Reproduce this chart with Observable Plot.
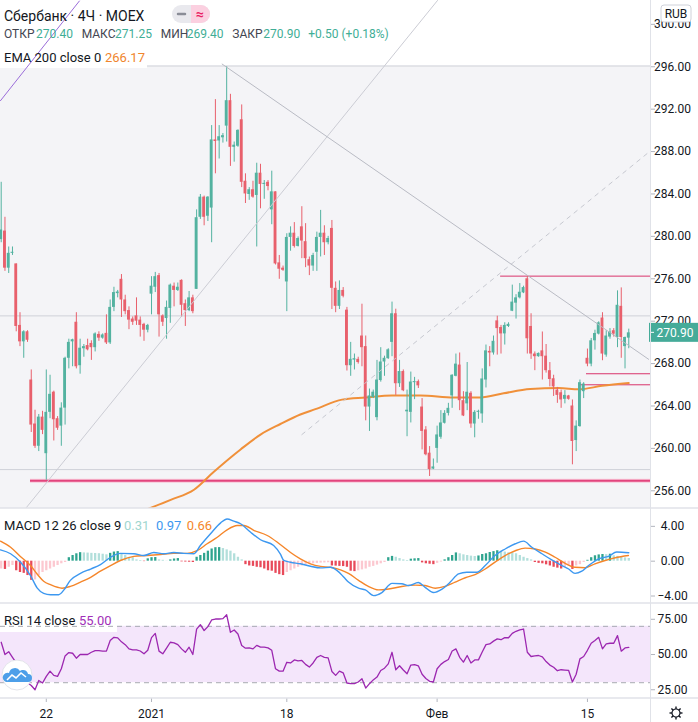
<!DOCTYPE html>
<html>
<head>
<meta charset="utf-8">
<script src="https://cdn.jsdelivr.net/npm/d3@7"></script>
<script src="https://cdn.jsdelivr.net/npm/@observablehq/plot@0.6"></script>
<style>
html, body { margin: 0; padding: 0; background: #ffffff; }
#root { position: relative; width: 698px; height: 722px; overflow: hidden; }
#root svg { position: absolute; left: 0; }
</style>
</head>
<body>
<div id="root"></div>
<script>
// ---------- DATA ----------
const open = [279.7, 280.5, 277.0, 278.4, 277.4, 271.6, 270.05, 271.0, 266.45, 262.3,
260.2, 262.95, 259.5, 263.4, 265.3, 262.8, 262.1, 263.8, 268.5, 270.1,
271.9, 267.8, 269.4, 269.7, 269.9, 269.5, 270.75, 270.4, 270.85, 269.95,
273.3, 274.6, 275.95, 274.0, 273.0, 272.2, 272.5, 272.1, 271.7, 271.15,
274.55, 275.2, 276.3, 272.5, 272.25, 273.2, 275.3, 274.9, 275.85, 273.65,
273.0, 274.2, 275.0, 281.8, 283.7, 281.9, 282.67, 289.1, 289.0, 289.3,
290.4, 292.8, 288.4, 288.5, 291.0, 285.2, 283.95, 284.4, 283.86, 285.96,
284.9, 285.1, 282.5, 284.2, 277.5, 277.0, 275.7, 279.9, 280.3, 279.05,
280.9, 279.5, 277.8, 277.2, 278.5, 279.9, 280.3, 279.4, 280.75, 275.1,
273.4, 274.9, 273.04, 267.8, 268.33, 268.4, 270.6, 269.6, 263.9, 264.8,
262.9, 266.4, 268.15, 268.46, 270.0, 272.7, 266.1, 267.25, 263.5, 263.4,
266.2, 266.3, 263.9, 261.74, 259.55, 258.1, 260.0, 261.05, 262.37, 263.3,
264.95, 266.8, 267.86, 264.5, 264.2, 265.2, 262.3, 263.4, 263.25, 266.45,
269.15, 269.0, 272.03, 271.4, 270.8, 271.5, 272.94, 273.7, 274.2, 274.67,
276.0, 271.5, 268.9, 268.65, 269.2, 268.7, 267.33, 266.57, 265.5, 265.25,
264.63, 264.95, 264.0, 260.74, 262.06, 265.35, 268.5, 267.95, 270.15, 270.78,
272.3, 268.8, 270.5, 271.1, 270.46, 273.4, 269.6, 270.40];
const high = [285.1, 281.8, 279.0, 279.0, 277.4, 272.8, 271.1, 271.1, 267.4, 263.6,
263.2, 263.5, 267.4, 266.9, 265.4, 263.0, 264.3, 268.6, 270.3, 270.3,
272.8, 270.3, 269.8, 270.3, 270.15, 270.9, 271.0, 270.8, 272.6, 274.0,
275.2, 274.9, 276.4, 274.45, 273.35, 272.4, 274.2, 272.4, 271.8, 271.7,
276.2, 276.6, 276.5, 272.6, 273.9, 275.5, 275.6, 275.6, 275.9, 274.0,
274.8, 274.45, 282.5, 283.95, 283.8, 283.75, 290.45, 292.9, 290.45, 289.7,
296.0, 293.4, 288.9, 290.05, 292.4, 285.9, 284.6, 285.2, 286.9, 286.8,
285.27, 285.27, 286.15, 284.2, 278.2, 277.2, 280.25, 280.9, 281.3, 279.95,
282.8, 281.2, 278.05, 278.4, 280.4, 282.45, 281.0, 280.0, 281.5, 275.7,
275.8, 275.17, 273.3, 270.0, 268.9, 268.6, 273.6, 270.6, 265.6, 265.5,
268.3, 269.5, 268.7, 269.4, 273.8, 273.13, 268.3, 267.4, 265.5, 267.2,
266.7, 266.45, 264.7, 262.05, 260.17, 259.0, 262.1, 263.56, 263.56, 264.25,
266.95, 268.9, 269.0, 265.35, 268.1, 265.35, 263.56, 263.6, 267.5, 269.75,
269.6, 270.6, 272.47, 271.6, 271.85, 271.85, 275.4, 274.5, 275.55, 275.3,
276.24, 272.7, 269.1, 269.0, 270.98, 269.8, 268.1, 266.9, 265.75, 265.5,
265.45, 265.0, 264.57, 262.6, 266.45, 266.2, 269.37, 270.37, 271.15, 271.94,
272.8, 271.1, 271.3, 271.3, 274.86, 275.14, 270.5, 271.25];
const low = [279.4, 276.7, 276.5, 278.2, 271.0, 269.6, 268.5, 270.0, 261.5, 260.0,
259.7, 261.3, 257.0, 262.8, 260.7, 261.7, 260.2, 262.2, 267.5, 267.7,
267.5, 267.0, 268.6, 269.2, 268.3, 269.1, 270.1, 270.3, 269.8, 269.8,
272.9, 274.2, 272.35, 272.6, 271.2, 271.6, 271.6, 270.5, 270.1, 270.9,
272.6, 274.7, 270.5, 271.5, 270.3, 271.8, 273.35, 274.8, 272.35, 271.5,
272.9, 272.7, 275.0, 281.6, 281.0, 281.4, 279.4, 285.9, 287.3, 288.8,
288.9, 286.6, 287.0, 288.4, 284.6, 283.1, 283.4, 283.6, 279.0, 282.6,
283.5, 284.3, 281.1, 277.3, 275.95, 276.7, 272.9, 278.6, 278.9, 279.0,
277.9, 277.05, 276.3, 276.7, 276.7, 278.06, 278.2, 279.2, 273.1, 272.8,
273.1, 274.2, 267.3, 266.8, 267.4, 267.95, 267.7, 262.6, 261.6, 264.7,
262.6, 266.25, 266.8, 268.4, 268.65, 265.0, 265.75, 265.35, 261.1, 262.4,
264.6, 265.65, 259.86, 259.3, 257.35, 258.0, 258.6, 260.86, 262.3, 263.06,
263.78, 266.75, 263.56, 263.0, 263.56, 261.9, 261.0, 262.75, 262.37, 265.7,
267.7, 268.8, 268.8, 268.9, 269.75, 271.4, 272.9, 272.2, 274.1, 274.6,
268.9, 268.4, 267.33, 268.6, 266.45, 267.1, 265.8, 264.9, 264.25, 263.78,
264.2, 264.55, 258.45, 259.7, 262.0, 264.7, 267.7, 267.7, 269.27, 270.7,
268.27, 268.6, 270.3, 270.5, 269.5, 268.5, 267.5, 269.40];
const close = [280.6, 277.0, 278.4, 278.5, 271.5, 270.05, 271.0, 270.2, 262.2, 260.2,
262.95, 261.7, 263.4, 265.1, 262.7, 261.9, 263.8, 268.5, 270.0, 270.2,
267.7, 269.45, 269.6, 269.3, 269.5, 270.8, 270.4, 270.7, 269.95, 273.3,
274.7, 274.75, 274.0, 272.9, 272.1, 271.9, 272.0, 271.6, 271.15, 271.6,
275.3, 276.2, 272.6, 271.9, 273.3, 275.4, 274.9, 275.2, 273.5, 273.0,
274.2, 272.9, 281.76, 283.7, 281.8, 283.7, 289.1, 288.95, 289.4, 289.5,
292.8, 288.4, 288.6, 290.0, 285.1, 284.0, 284.4, 283.7, 285.96, 284.9,
285.0, 284.7, 284.2, 277.4, 276.9, 276.8, 279.9, 280.3, 279.05, 279.8,
279.56, 277.9, 277.2, 278.2, 279.9, 280.3, 279.4, 279.8, 275.1, 273.4,
274.9, 274.35, 267.8, 268.4, 268.46, 268.1, 269.5, 263.9, 264.95, 265.3,
266.45, 268.15, 268.5, 269.3, 272.7, 266.1, 267.25, 265.44, 263.55, 266.26,
266.3, 265.9, 261.6, 259.4, 258.0, 258.2, 261.27, 262.4, 263.3, 263.78,
266.9, 267.95, 264.5, 263.06, 265.3, 262.3, 263.4, 263.5, 266.55, 269.2,
269.0, 270.1, 271.3, 270.8, 271.6, 271.7, 273.8, 274.2, 274.73, 275.17,
270.34, 268.9, 268.65, 268.96, 268.65, 267.33, 266.5, 265.8, 265.0, 264.57,
265.0, 264.63, 260.65, 262.1, 266.2, 266.07, 267.95, 270.15, 270.84, 271.84,
268.9, 270.6, 270.97, 270.78, 273.5, 270.46, 270.46, 270.90];

// EMA 200 (candle index, value)
const emaIdx = [38.4, 45.1, 51.3, 56.6, 63.7, 69, 74.3, 79.6, 83.6, 90.7, 96.9, 104, 111.6, 120.4, 127.5, 133.7, 140.8, 148.4, 153.7, 159.9, 167];
const emaVal = [254.2, 255.15, 256.1, 257.8, 259.9, 261.3, 262.3, 263.2, 263.7, 264.6, 264.8, 265.0, 265.0, 264.8, 264.8, 265.2, 265.6, 265.7, 265.57, 265.9, 266.17];

// MACD line (candle index, value)
const macdIdx = [-0.19, 2.5, 5.1, 7.8, 9.6, 11.3, 13.1, 15.3, 16.7, 18.4, 21.1, 23.8, 26.4, 29.1, 31.7, 35.3, 38, 40.6, 43.3, 45.9, 48.6, 51.3, 53, 55.7, 58.4, 60.1, 61.9, 63.7, 66.3, 69, 72.5, 74.3, 75.2, 77, 79.6, 82.3, 85, 87.6, 89.4, 91.2, 92.4, 95.1, 96.9, 99.1, 101.3, 104, 106.6, 108.4, 111, 112.8, 115, 117.3, 119.5, 121.7, 123.9, 126.6, 128.8, 131.4, 134.1, 136.8, 139, 141.2, 143.9, 146.5, 149.2, 151, 152.7, 154.5, 156.3, 159, 161.6, 163.8, 167];
const macdVal = [1.3, 0.85, -0.1, -1.65, -3.1, -3.7, -3.85, -3.85, -3.3, -2.2, -1.4, -0.9, -0.4, 0.45, 0.9, 0.85, 0.65, 1.0, 0.85, 1.0, 0.9, 0.85, 1.8, 3.15, 4.4, 4.85, 4.6, 4.3, 3.35, 2.46, 1.8, 0.8, 0.08, -0.12, -0.3, -0.58, -0.77, -0.7, -1.08, -1.85, -2.4, -3.1, -3.3, -3.95, -3.6, -2.55, -2.6, -2.8, -2.45, -3.0, -3.6, -3.2, -2.4, -1.45, -1.27, -1.27, -0.5, 0.65, 1.4, 2.0, 2.3, 1.6, 0.85, 0.15, -0.5, -0.9, -1.4, -1.15, -0.5, 0.27, 0.55, 1.05, 0.97];
// Signal line (candle index, value)
const signalIdx = [-0.19, 2.5, 5.1, 7.8, 9.6, 11.3, 13.1, 16.2, 18.4, 21.1, 23.8, 26.4, 29.1, 31.7, 35.3, 38.8, 42.4, 45.9, 49.5, 52.1, 54.8, 57.5, 60.1, 62.8, 64.6, 67.2, 70.8, 73.4, 75.2, 77, 79.6, 82.3, 85, 87.6, 90.3, 92.4, 95.1, 97.7, 100.4, 103.1, 106.6, 110.2, 112.8, 115.5, 118.1, 120.8, 123.5, 126.1, 128.8, 131.4, 134.1, 136.8, 139.4, 142.1, 144.8, 147.4, 150.1, 152.7, 155.4, 158, 160.7, 163.4, 166.9];
const signalVal = [2.3, 1.6, 0.55, -0.5, -1.5, -2.3, -2.7, -3.1, -2.9, -2.4, -1.85, -1.15, -0.5, 0.08, 0.55, 0.65, 0.77, 0.9, 0.9, 1.2, 2.0, 2.75, 3.6, 4.1, 4.1, 3.55, 2.95, 2.2, 1.6, 1.0, 0.27, -0.3, -0.6, -0.7, -1.0, -1.4, -2.2, -2.9, -3.3, -3.2, -2.9, -2.75, -2.8, -3.1, -2.9, -2.4, -1.9, -1.55, -0.9, -0.1, 0.65, 1.2, 1.5, 1.4, 1.05, 0.45, -0.25, -0.7, -0.75, -0.3, 0.08, 0.4, 0.66];
// MACD histogram, one value per candle
const hist = [-0.9, -0.95, -0.7, -0.5, -1.1, -1.3, -1.4, -1.65, -2.2, -2.15, -1.65, -1.3, -1.1, -0.9, -0.7, -0.5, -0.3, -0.15,
0.4, 0.65, 0.85, 0.98, 0.95, 0.93, 0.9, 0.88, 0.86, 0.8, 0.73, 0.9, 1.05, 1.1, 0.85, 0.65, 0.45, 0.4, 0.15, 0.08,
-0.05, 0.27, 0.4, 0.42, 0.15, 0.1, 0.02, 0.15, 0.25, 0.3, -0.08, -0.1, -0.12, -0.15,
0.45, 0.65, 0.9, 1.15, 1.4, 1.55, 1.56, 1.45, 1.3, 1.15, 0.85, 0.45, 0.15,
-0.4, -0.55, -0.6, -0.7, -0.75, -0.9, -1.1, -1.15, -1.4, -1.55, -1.65,
-1.3, -1.1, -0.9, -0.7, -0.55, -0.45, -0.4, -0.3, -0.25, -0.22, -0.2, -0.18,
-0.55, -0.57, -0.6, -0.62, -0.7,
-1.15, -1.2, -1.1, -1.0, -0.9, -0.7, -0.6, -0.45, -0.3, -0.15,
0.4, 0.55, 0.45, 0.3, 0.15, 0.08, 0.23, 0.27, 0.3,
-0.2, -0.3, -0.35, -0.4, -0.25, -0.1,
0.15, 0.4, 0.65, 0.95, 0.85, 0.73, 0.65, 0.58, 0.54, 0.6, 0.77, 0.85, 1.0, 1.1, 1.2, 1.15, 1.05, 0.97, 0.95, 0.85, 0.65, 0.45, 0.3, 0.15,
-0.15, -0.25, -0.3, -0.42, -0.55, -0.7, -0.8, -0.9, -0.7, -0.55, -0.95, -0.55, -0.4, -0.15,
0.1, 0.4, 0.62, 0.72, 0.77, 0.75, 0.8, 0.62, 0.55, 0.46, 0.38, 0.31];
// RSI 14, one value per candle
const rsi = [58.7, 50, 52, 48, 44, 38, 33, 30, 28, 25,
31.6, 29.8, 34.5, 38.2, 35.2, 34.5, 39.9, 49, 51.4, 50.9,
47.4, 50, 50, 50, 51.6, 52.8, 52.8, 52.4, 52.4, 59.9,
62.2, 61.8, 59, 57, 54, 53.3, 53.3, 52.5, 50.5, 53,
62, 65, 52.4, 50.5, 54.5, 58.7, 58.3, 57, 54, 51.6,
55.2, 50, 68, 71.2, 67, 69.8, 74.5, 75.2, 75.2, 75.5,
78.2, 65.8, 67.4, 64.6, 56.4, 54.5, 54.7, 54, 56.5, 55.2,
55.2, 54.7, 53, 39.9, 38.2, 38.2, 44.5, 44, 46.2, 45.5,
45.8, 43, 41.1, 44, 48, 49.3, 48, 47.6, 38, 35.2,
38.2, 37, 29.8, 29.3, 29.3, 30.5, 32.8, 26.2, 29.3, 32,
34, 38.7, 40.3, 43.4, 51.6, 39.2, 42, 39, 36.4, 42.5,
42.9, 42, 36, 33, 31, 30.5, 39.9, 43, 45, 46.5,
52.5, 54, 48, 44.6, 49.3, 44, 46.2, 46.2, 51.8, 57,
57.5, 59.5, 61.1, 60.5, 62, 61.9, 65, 66.5, 67.5, 68.1,
51.6, 48.6, 49, 49.3, 48.3, 45, 42.5, 41, 38.5, 39.2,
39, 38.7, 30.5, 36, 46.9, 48.6, 53, 58, 60, 62.2,
54, 57.5, 58, 58, 63.4, 52.4, 54.7, 55];
const rsiLevels = [30, 70];

// Drawings on the price pane (candle index / price anchors)
const rectTop = 296.07;
const grayLevels = [296.07, 272.5, 258.0];
const pinkLevels = [276.25, 267.04, 266.0];
const pinkStart = [132.9, 155.75, 153.9];
const supportLevel = 256.95, supportStart = 7.8;
const purpleX = [-0.19, 20.8], purpleY = [292.8, 302.2];
const upX = [6.7, 116.1], upY = [254.42, 302.25];
const downX = [58.8, 172.3], downY = [296.25, 268.4];
const dashX = [80, 172.78], dashY = [261.3, 288.07];

// Axis ticks
const priceTicks = [256, 260, 264, 268, 272, 276, 280, 284, 288, 292, 296, 300];
const macdTicks = [-4, 0, 4];
const rsiTicks = [25, 50, 75];
const dateIdx = [12, 40, 76, 116, 156];
const dateLabels = ["22", "2021", "18", "Фев", "15"];

// ---------- STYLE ----------
const FONT = "Roboto, 'Noto Sans', 'DejaVu Sans', sans-serif";
const UP = "#53b2a0", DOWN = "#e8606c";
const xDomain = [-0.186, 172.78];
const yMain = [254.33, 302.25];
const SVGNS = "http://www.w3.org/2000/svg";
const root = document.getElementById("root");

function svgEl(tag, attrs) {
  const e = document.createElementNS(SVGNS, tag);
  for (const k in attrs) e.setAttribute(k, attrs[k]);
  return e;
}

const candles = close.map((c, i) => ({i, o: open[i], h: high[i], l: low[i], c}));
const col = d => d.c >= d.o ? UP : DOWN;
const pad = d => Math.abs(d.c - d.o) < 0.1 ? 0.05 : 0;
const axisOpts = {anchor: "right", tickSize: 4, tickPadding: 18, textAnchor: "middle", stroke: "#b2b5be", fill: "#131722", fontSize: 12, label: null};

// ---------- MAIN PRICE PANE ----------
const main = Plot.plot({
  width: 698, height: 508,
  marginTop: 0, marginBottom: 0, marginLeft: 0, marginRight: 48,
  x: {domain: xDomain, axis: null},
  y: {domain: yMain, axis: null},
  style: {fontFamily: FONT, fontSize: "12px", background: "#ffffff", color: "#131722"},
  marks: [
    Plot.rect([rectTop], {x1: () => xDomain[0], x2: () => xDomain[1], y1: () => yMain[0], y2: d => d, fill: "#f4f4f7"}),
    Plot.ruleY(grayLevels, {stroke: "#cfd1d8", strokeWidth: 1}),
    Plot.ruleY([supportLevel], {x1: () => supportStart, x2: () => xDomain[1], stroke: "#f9c9da", strokeWidth: 4}),
    Plot.ruleY([supportLevel], {x1: () => supportStart, x2: () => xDomain[1], stroke: "#e2457e", strokeWidth: 2}),
    Plot.ruleY(pinkLevels, {x1: (d, k) => pinkStart[k], x2: () => xDomain[1], stroke: "#d9336b", strokeWidth: 1}),
    Plot.line(emaIdx, {x: d => d, y: (d, k) => emaVal[k], stroke: "#f0903a", strokeWidth: 2, curve: "monotone-x", clip: true}),
    Plot.ruleX(candles, {x: "i", y1: "l", y2: "h", stroke: col, strokeWidth: 1}),
    Plot.rect(candles, {x1: d => d.i - 0.38, x2: d => d.i + 0.38, y1: d => Math.min(d.o, d.c) - pad(d), y2: d => Math.max(d.o, d.c) + pad(d), fill: col}),
    Plot.line(upX, {x: d => d, y: (d, k) => upY[k], stroke: "#cbccd4", strokeWidth: 1, clip: true}),
    Plot.line(dashX, {x: d => d, y: (d, k) => dashY[k], stroke: "#c6c8d0", strokeWidth: 1, strokeDasharray: "4,5", clip: true}),
    Plot.line(downX, {x: d => d, y: (d, k) => downY[k], stroke: "#b9bbc4", strokeWidth: 1, clip: true}),
    () => svgEl("rect", {x: 0, y: 47, width: 147, height: 21, fill: "#ffffff"}),
    Plot.line(purpleX, {x: d => d, y: (d, k) => purpleY[k], stroke: "#9a6cd9", strokeWidth: 1, clip: true}),
    Plot.axisY(priceTicks, {...axisOpts, tickFormat: d => d.toFixed(2)}),
    (index, scales) => {
      const g = svgEl("g", {});
      const yy = scales.y(close[close.length - 1]);
      g.appendChild(svgEl("rect", {x: 649, y: yy - 9.5, width: 49, height: 19, fill: "#45ab99"}));
      g.appendChild(svgEl("line", {x1: 650, x2: 654, y1: yy, y2: yy, stroke: "#ffffff", "stroke-width": 1}));
      const t = svgEl("text", {x: 675, y: yy + 4.2, "text-anchor": "middle", fill: "#ffffff", "font-size": 12, "font-family": FONT});
      t.textContent = close[close.length - 1].toFixed(2);
      g.appendChild(t);
      return g;
    }
  ]
});
main.style.top = "0px";
root.appendChild(main);

// ---------- MACD PANE ----------
const histData = hist.map((v, i) => ({i, v, p: i > 0 ? hist[i - 1] : v}));
const histColor = d => d.v >= 0 ? (d.v >= d.p ? "#2fa48f" : "#b2dfdb") : (d.v < d.p ? "#e84a5a" : "#fcc8d0");
const macd = Plot.plot({
  width: 698, height: 95,
  marginTop: 0, marginBottom: 0, marginLeft: 0, marginRight: 48,
  x: {domain: xDomain, axis: null},
  y: {domain: [-4.86, 6.05], axis: null},
  style: {fontFamily: FONT, fontSize: "12px", background: "#ffffff", color: "#131722"},
  marks: [
    Plot.ruleX(histData, {x: "i", y1: () => 0, y2: "v", stroke: histColor, strokeWidth: 2.3}),
    Plot.line(signalIdx, {x: d => d, y: (d, k) => signalVal[k], stroke: "#f5862a", strokeWidth: 1.4, curve: "monotone-x", clip: true}),
    Plot.line(macdIdx, {x: d => d, y: (d, k) => macdVal[k], stroke: "#3d98f0", strokeWidth: 1.4, curve: "monotone-x", clip: true}),
    Plot.axisY(macdTicks, {...axisOpts, tickFormat: d => (d < 0 ? "−" : "") + Math.abs(d).toFixed(2)})
  ]
});
macd.style.top = "508px";
root.appendChild(macd);

// ---------- RSI PANE + DATE AXIS ----------
const rsiPlot = Plot.plot({
  width: 698, height: 119,
  marginTop: 0, marginBottom: 24, marginLeft: 0, marginRight: 48,
  x: {domain: xDomain, axis: null},
  y: {domain: [18.8, 86.2], axis: null},
  style: {fontFamily: FONT, fontSize: "12px", background: "#ffffff", color: "#131722"},
  marks: [
    Plot.rect([rsiLevels], {x1: () => xDomain[0], x2: () => xDomain[1], y1: d => d[0], y2: d => d[1], fill: "#f4e6fb"}),
    () => svgEl("rect", {x: 0, y: 10, width: 117, height: 19, fill: "#ffffff"}),
    Plot.ruleY(rsiLevels, {stroke: "#a8aab2", strokeWidth: 1, strokeDasharray: "5,4"}),
    Plot.line(rsi, {x: (d, i) => i, y: d => d, stroke: "#9c27b0", strokeWidth: 1.3}),
    Plot.axisY(rsiTicks, {...axisOpts, tickFormat: d => d.toFixed(2)}),
    Plot.axisX(dateIdx, {anchor: "bottom", tickSize: 4, tickPadding: 7, stroke: "#b2b5be", fill: "#131722", fontSize: 12, label: null, tickFormat: d => dateLabels[dateIdx.indexOf(d)]})
  ]
});
rsiPlot.style.top = "603px";
root.appendChild(rsiPlot);

// ---------- OVERLAY: separators, legends, badges ----------
const ov = d3.select(root).append("svg").attr("width", 698).attr("height", 722)
  .style("top", "0px").style("pointer-events", "none").style("font-family", FONT);

[508, 603, 698].forEach(y => ov.append("line").attr("x1", 0).attr("x2", 698).attr("y1", y).attr("y2", y).attr("stroke", "#e0e2e8").attr("stroke-width", 1.5));
ov.append("line").attr("x1", 650.5).attr("x2", 650.5).attr("y1", 0).attr("y2", 722).attr("stroke", "#e0e2e8").attr("stroke-width", 1);

function txt(x, y, s, fill, size, weight) {
  ov.append("text").attr("x", x).attr("y", y).attr("fill", fill).attr("font-size", size).attr("font-weight", weight || 400).text(s);
}
// header
txt(4, 20.5, "Сбербанк · 4Ч · MOEX", "#131722", 14);
ov.append("rect").attr("x", 172).attr("y", 5).attr("width", 38).attr("height", 18).attr("rx", 9).attr("fill", "#e9e9ee");
ov.append("path").attr("d", "M191,5 h10 a9,9 0 0 1 0,18 h-10 z").attr("fill", "#fbd0e0");
ov.append("line").attr("x1", 178).attr("x2", 185).attr("y1", 14).attr("y2", 14).attr("stroke", "#8a8d97").attr("stroke-width", 2.5).attr("stroke-linecap", "round");
ov.append("text").attr("x", 200).attr("y", 19).attr("text-anchor", "middle").attr("fill", "#e91e63").attr("font-size", 14).attr("font-weight", 700).text("≈");

const LBL = "#434651", VAL = "#3fae96";
txt(4, 37.5, "ОТКР", LBL, 12); txt(36, 37.5, "270.40", VAL, 12);
txt(81.7, 37.5, "МАКС", LBL, 12); txt(115, 37.5, "271.25", VAL, 12);
txt(160.7, 37.5, "МИН", LBL, 12); txt(186.7, 37.5, "269.40", VAL, 12);
txt(232.3, 37.5, "ЗАКР", LBL, 12); txt(263.3, 37.5, "270.90", VAL, 12);
txt(308.3, 37.5, "+0.50 (+0.18%)", VAL, 12);
txt(4, 61.7, "EMA 200 close 0", "#131722", 13); txt(105, 61.7, "266.17", "#f0852d", 13);

// MACD legend
txt(4, 529.5, "MACD 12 26 close 9", "#131722", 13);
txt(124, 529.5, "0.31", "#9fd6cf", 13);
txt(156, 529.5, "0.97", "#3d98f0", 13);
txt(186.7, 529.5, "0.66", "#f5862a", 13);
// RSI legend
txt(4, 625, "RSI 14 close", "#131722", 13);
txt(79, 625, "55.00", "#a12fb8", 13);

// RUB box
ov.append("rect").attr("x", 661).attr("y", 5).attr("width", 30).attr("height", 17).attr("rx", 3).attr("fill", "#ffffff").attr("stroke", "#cfd2da");
ov.append("text").attr("x", 676).attr("y", 18).attr("text-anchor", "middle").attr("fill", "#131722").attr("font-size", 12).text("RUB");

// TradingView logo
ov.append("circle").attr("cx", 17).attr("cy", 675).attr("r", 15).attr("fill", "#ffffff").attr("stroke", "#e3e4ea");
ov.append("path").attr("d", "M6,682 h22 a4,4 0 0 0 0,-8 a5,5 0 0 0 -8,-3 a6,6 0 0 0 -11,2 a4.5,4.5 0 0 0 -3,9 z").attr("fill", "#4d9fe9");
ov.append("path").attr("d", "M7,680 l5,-5 l4,3 l5,-5 l5,4").attr("fill", "none").attr("stroke", "#ffffff").attr("stroke-width", 1.6);

// gear icon
const gear = ov.append("g").attr("transform", "translate(676,713)");
gear.append("circle").attr("r", 4).attr("fill", "none").attr("stroke", "#131722").attr("stroke-width", 1.2);
for (let k = 0; k < 8; k++) {
  const a = k * Math.PI / 4;
  gear.append("line").attr("x1", 4 * Math.cos(a)).attr("y1", 4 * Math.sin(a)).attr("x2", 6.5 * Math.cos(a)).attr("y2", 6.5 * Math.sin(a)).attr("stroke", "#131722").attr("stroke-width", 1.4);
}
</script>
</body>
</html>
